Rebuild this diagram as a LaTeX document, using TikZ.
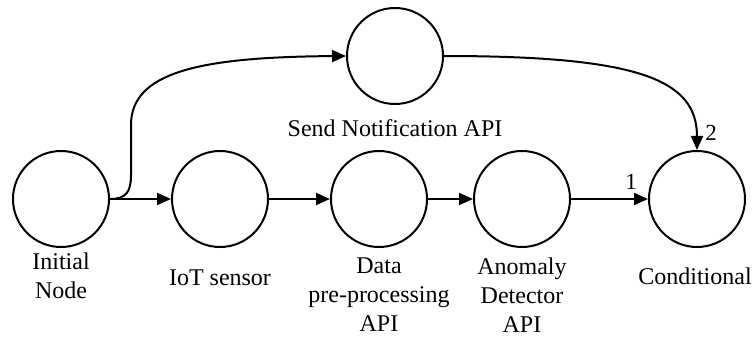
\documentclass[tikz,border=0pt]{standalone}
\usepackage{fontspec}
\setmainfont{Liberation Serif}
\usetikzlibrary{arrows.meta}
\tikzset{
  state/.style={circle, draw, line width=2pt, minimum size=96pt, inner sep=0pt},
  caption/.style={align=center, inner sep=0pt, font=\fontsize{24}{29}\selectfont},
  flow/.style={line width=2pt, -{Triangle[length=14pt,width=12pt]}},
  branch/.style={font=\fontsize{23}{28}\selectfont, inner sep=0pt}
}
\begin{document}
\begin{tikzpicture}[x=1pt,y=-1pt]
\useasboundingbox (0,0) rectangle (756,337);

% states of the workflow
\node[state] (init) at (61,199) {};
\node[state] (iot)  at (220,199) {};
\node[state] (data) at (379,199) {};
\node[state] (anom) at (522,199) {};
\node[state] (cond) at (697,199) {};
\node[state] (send) at (395,56) {};

% captions under the states
\node[caption] (tinit) at (61,276) {Initial\\Node};
\node[caption] (tiot)  at (220,278) {IoT sensor};
\node[caption] (tdata) at (379,295) {Data\\pre-processing\\API};
\node[caption] (tanom) at (522,295) {Anomaly\\Detector\\API};
\node[caption] (tcond) at (695,276) {Conditional};
\node[caption] (tsend) at (395,128) {Send Notification API};

% main chain
\draw[flow] (init.east) -- (iot.west);
\draw[flow] (iot.east) -- (data.west);
\draw[flow] (data.east) -- (anom.west);
\draw[flow] (anom.east) -- (cond.west);

% notification branch
\coordinate (up1) at (131,175);
\coordinate (up2) at (131,125);
\draw[flow] (init.east) .. controls (126,199) and (131,192) .. (up1)
  -- (up2) .. controls (131,72) and (200,57) .. (send.west);
\draw[flow] (send.east) .. controls (640,56) and (697,80) .. (cond.north);

% branch numbers
\node[branch] (n1) at (631,182) {1};
\node[branch] (n2) at (711,133) {2};
\end{tikzpicture}
\end{document}
